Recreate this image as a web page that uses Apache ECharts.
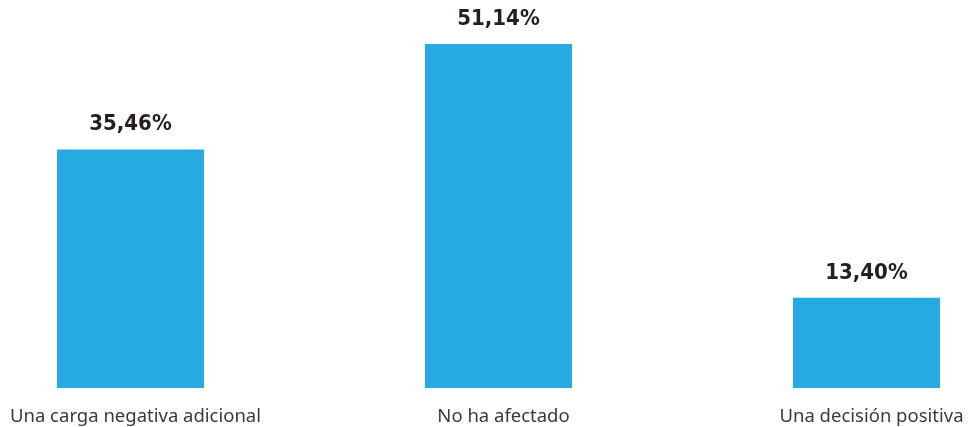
<!DOCTYPE html>
<html>
<head>
<meta charset="utf-8">
<script src="https://cdn.jsdelivr.net/npm/echarts@6/dist/echarts.min.js"></script>
<style>
  html, body { margin: 0; padding: 0; background: #fff; }
  #chart { width: 969px; height: 427px; }
</style>
</head>
<body>
<div id="chart"></div>
<script>
const categories = ['Una carga negativa adicional', 'No ha afectado', 'Una decisión positiva'];
const values = [35.46, 51.14, 13.40];

const chart = echarts.init(document.getElementById('chart'));

const option = {
  animation: false,
  grid: {
    left: 130.5,
    right: 102.5,
    top: 18,
    bottom: 39
  },
  xAxis: {
    type: 'category',
    data: categories,
    boundaryGap: false,
    axisLine: { show: false },
    axisTick: { show: false },
    axisLabel: {
      color: '#3a3a3a',
      fontFamily: 'Noto Sans',
      fontSize: 18.5,
      margin: 19,
      padding: [0, 0, 0, 10],
      interval: 0
    }
  },
  yAxis: {
    type: 'value',
    min: 0,
    max: 55,
    show: false
  },
  series: [{
    type: 'bar',
    data: values,
    barWidth: 147,
    itemStyle: { color: '#27aae1' },
    label: {
      show: true,
      position: 'top',
      distance: 14,
      color: '#231f20',
      fontFamily: '"DejaVu Sans Condensed", "Liberation Sans Narrow", sans-serif',
      fontWeight: 'bold',
      fontSize: 22,
      formatter: function (p) {
        return p.value.toFixed(2).replace('.', ',') + '%';
      }
    }
  }]
};

chart.setOption(option);
</script>
</body>
</html>
